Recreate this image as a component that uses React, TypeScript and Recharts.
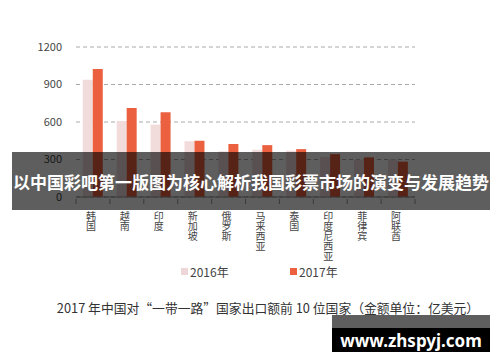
import React from "react";
import { BarChart, Bar, XAxis, YAxis, CartesianGrid } from "recharts";

const countries = ["韩国", "越南", "印度", "新加坡", "俄罗斯", "马来西亚", "泰国", "印度尼西亚", "菲律宾", "阿联酋"];
const values2016 = [939, 608, 579, 446, 366, 378, 370, 321, 298, 300];
const values2017 = [1025, 712, 678, 450, 424, 415, 383, 343, 317, 283];
const yTicks = [0, 300, 600, 900, 1200];
const seriesNames = ["2016年", "2017年"];
const seriesColors = ["#f2dcdb", "#eb6140"];
const bannerText = "以中国彩吧第一版图为核心解析我国彩票市场的演变与发展趋势";
const titleText = "2017 年中国对“一带一路”国家出口额前 10 位国家（金额单位：亿美元）";
const watermarkText = "www.zhspyj.com";

const data = countries.map((c, i) => ({ name: c, y2016: values2016[i], y2017: values2017[i] }));

const W = 500;
const H = 362;
const margin = { top: 47, right: 85, bottom: 105, left: 16 };
const yAxisWidth = 60;
const xAxisHeight = 60;
const plotWidth = W - margin.left - margin.right - yAxisWidth;
const band = plotWidth / countries.length;
const FONT = "'Noto Sans CJK SC', 'Noto Sans', sans-serif";

const XTick = (props: any) => {
  const { x, y, payload, index } = props;
  const chars = String(payload.value).split("");
  const axisY = y - 4;
  return (
    <g>
      <line x1={x - band / 2} x2={x - band / 2} y1={axisY - 2} y2={axisY + 3} stroke="#999" />
      {index === countries.length - 1 && (
        <line x1={x + band / 2} x2={x + band / 2} y1={axisY - 2} y2={axisY + 3} stroke="#999" />
      )}
      {chars.map((ch, i) => (
        <text
          key={i}
          x={x - 2}
          y={axisY + 19 + i * 10}
          textAnchor="middle"
          fontSize={10}
          fill="#444"
          fontFamily={FONT}
        >
          {ch}
        </text>
      ))}
    </g>
  );
};

export default function App() {
  return (
    <div style={{ position: "absolute", left: 0, top: 0, width: W, height: H, background: "#fff", overflow: "hidden" }}>
      <BarChart width={W} height={H} data={data} margin={margin} barCategoryGap="20%" barGap={0}>
        <CartesianGrid vertical={false} stroke="#aaa" strokeDasharray="4 3" />
        <YAxis
          width={yAxisWidth}
          domain={[0, 1200]}
          ticks={yTicks}
          axisLine={false}
          tickLine={false}
          tickMargin={8}
          tick={{ fontSize: 11, fill: "#444", fontFamily: FONT }}
        />
        <XAxis
          dataKey="name"
          height={xAxisHeight}
          axisLine={{ stroke: "#999" }}
          tickLine={false}
          interval={0}
          tick={<XTick />}
        />
        <Bar dataKey="y2016" name={seriesNames[0]} fill={seriesColors[0]} isAnimationActive={false} />
        <Bar dataKey="y2017" name={seriesNames[1]} fill={seriesColors[1]} isAnimationActive={false} />
      </BarChart>

      {/* Legend */}
      {seriesNames.map((n, i) => (
        <div
          key={n}
          style={{
            position: "absolute",
            left: i === 0 ? 181 : 290,
            top: 263,
            display: "flex",
            alignItems: "center",
            fontFamily: FONT,
            fontSize: 12,
            color: "#444",
          }}
        >
          <span style={{ display: "inline-block", width: 7, height: 7, background: i === 0 ? "#ecd6d8" : seriesColors[i], marginRight: 2 }} />
          <span>{n}</span>
        </div>
      ))}

      {/* Title */}
      <div
        style={{
          position: "absolute",
          left: 0,
          width: 536,
          top: 298,
          textAlign: "center",
          fontFamily: FONT,
          fontSize: 12.8,
          color: "#333",
          whiteSpace: "nowrap",
        }}
      >
        {titleText}
      </div>

      {/* Banner */}
      <div
        style={{
          position: "absolute",
          left: 12,
          top: 152,
          width: 478,
          height: 58,
          background: "rgba(0,0,0,0.63)",
          display: "flex",
          alignItems: "center",
          justifyContent: "center",
          color: "#fff",
          fontFamily: FONT,
          fontWeight: 700,
          fontSize: 17,
          whiteSpace: "nowrap",
          overflow: "hidden",
        }}
      >
        {bannerText}
      </div>

      {/* Watermark */}
      <div style={{ position: "absolute", left: 332, top: 315, width: 158, height: 37, background: "#000" }}>
        <div style={{ height: 13, background: "#5e5e5e" }} />
        <div
          style={{
            position: "absolute",
            left: 0,
            top: 13,
            width: 158,
            height: 24,
            display: "flex",
            alignItems: "center",
            justifyContent: "center",
            color: "#fff",
            fontFamily: "'Noto Sans', sans-serif",
            fontWeight: 700,
            fontSize: 17,
          }}
        >
          {watermarkText}
        </div>
      </div>
    </div>
  );
}
